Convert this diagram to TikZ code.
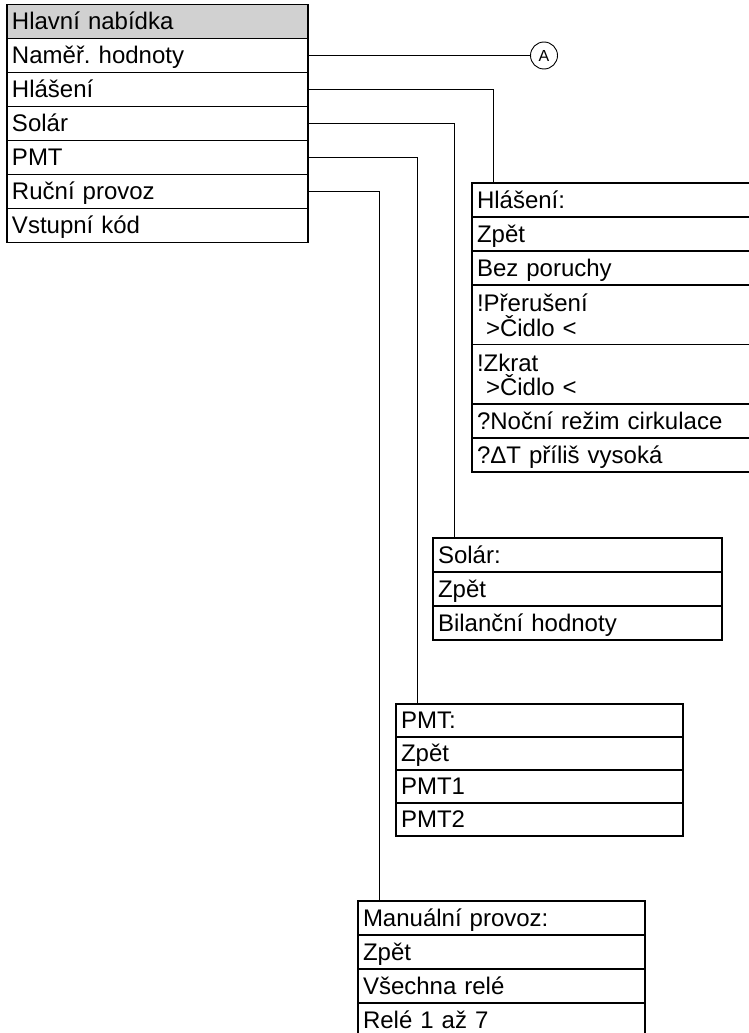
\documentclass[tikz,border=0pt]{standalone}
\usepackage{fontspec}
\setmainfont{Liberation Sans}
\usetikzlibrary{positioning}
\definecolor{headgray}{gray}{0.82}
\newcommand\hitop{\rule{0pt}{26.5pt}}
\newcommand\hibot{\rule[-8.5pt]{0pt}{0pt}}

\begin{document}
\frenchspacing
\begin{tikzpicture}
  [x=1pt, y=-1pt, font=\fontsize{24}{24}\selectfont,
   cell/.style={draw, line width=1.2pt, outer sep=0pt, inner xsep=5pt, inner ysep=0pt,
     align=left, minimum height=34pt, text height=17.5pt, text depth=1.5pt},
   tall/.style={minimum height=59.5pt, text height=, text depth=,
     font=\fontsize{24}{24.5}\selectfont},
   link/.style={line width=0.9pt}]
  \useasboundingbox (0,0) rectangle (749,1033);
  \clip (0,0) rectangle (749,1033);

  % hlavni nabidka
  \begin{scope}[every node/.style={cell, text width=291pt}]
    \node[fill=headgray, anchor=north west] (mm) at (7,4.5) {Hlavní nabídka};
    \node[below=0pt of mm] (m1) {Naměř. hodnoty};
    \node[below=0pt of m1] (m2) {Hlášení};
    \node[below=0pt of m2] (m3) {Solár};
    \node[below=0pt of m3] (m4) {PMT};
    \node[below=0pt of m4] (m5) {Ruční provoz};
    \node[below=0pt of m5] (m6) {Vstupní kód};
  \end{scope}

  % hlaseni
  \begin{scope}[every node/.style={cell, text width=300pt}]
    \node[anchor=north west] (h0) at (472,183) {Hlášení:};
    \node[below=0pt of h0] (h1) {Zpět};
    \node[below=0pt of h1] (h2) {Bez poruchy};
    \node[tall, below=0pt of h2] (h3) {\hitop!Přerušení\\\hspace*{9pt}>Čidlo <\hibot};
    \node[tall, below=0pt of h3] (h4) {\hitop!Zkrat\\\hspace*{9pt}>Čidlo <\hibot};
    \node[below=0pt of h4] (h5) {?Noční režim cirkulace};
    \node[below=0pt of h5] (h6) {?ΔT příliš vysoká};
  \end{scope}

  % solar
  \begin{scope}[every node/.style={cell, text width=279pt}]
    \node[anchor=north west] (s0) at (433,538) {Solár:};
    \node[below=0pt of s0] (s1) {Zpět};
    \node[below=0pt of s1] (s2) {Bilanční hodnoty};
  \end{scope}

  % pmt
  \begin{scope}[every node/.style={cell, text width=277pt, minimum height=33pt, text height=17pt}]
    \node[anchor=north west] (p0) at (396,704) {PMT:};
    \node[below=0pt of p0] (p1) {Zpět};
    \node[below=0pt of p1] (p2) {PMT1};
    \node[below=0pt of p2] (p3) {PMT2};
  \end{scope}

  % rucni provoz
  \begin{scope}[every node/.style={cell, text width=277pt}]
    \node[anchor=north west] (r0) at (358,901) {Manuální provoz:};
    \node[below=0pt of r0] (r1) {Zpět};
    \node[below=0pt of r1] (r2) {Všechna relé};
    \node[below=0pt of r2] (r3) {Relé 1 až 7};
  \end{scope}

  \node[draw, circle, line width=0.9pt, minimum size=27pt, inner sep=0pt,
    font=\fontsize{16}{16}\selectfont] (A) at (544,55.5) {A};

  \draw[link] (m1.east) -- (A);
  \foreach \a/\b in {m2/h0,m3/s0,m4/p0,m5/r0}
    \draw[link] (\a.east) -| ([xshift=21pt]\b.north west);
\end{tikzpicture}
\end{document}
